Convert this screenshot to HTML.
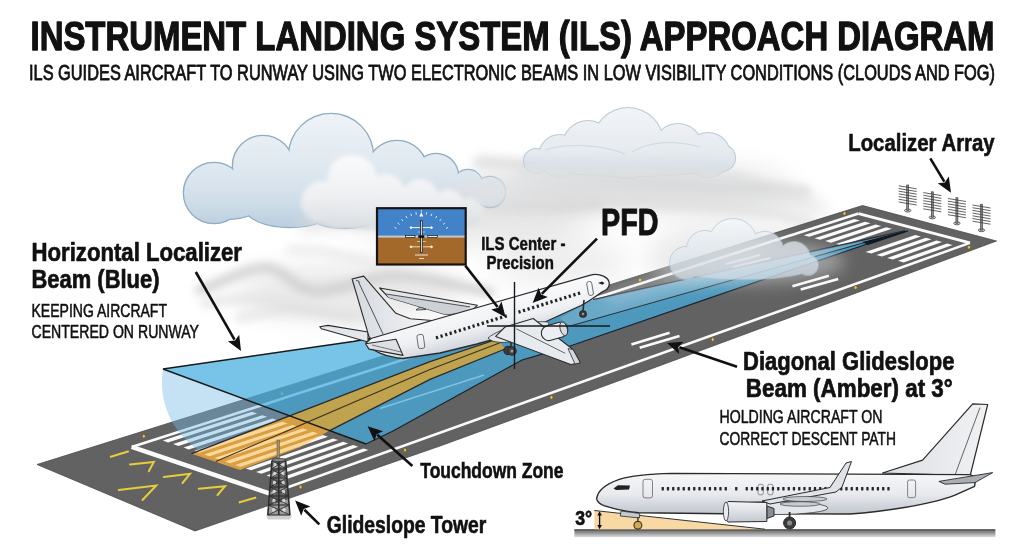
<!DOCTYPE html>
<html><head><meta charset="utf-8"><title>ILS Approach Diagram</title>
<style>html,body{margin:0;padding:0;background:#fff;width:1024px;height:559px;overflow:hidden}</style>
</head><body>
<svg width="1024" height="559" viewBox="0 0 1024 559" style="display:block;font-family:'Liberation Sans',sans-serif">
<defs>
<filter id="blur8" x="-50%" y="-50%" width="200%" height="200%"><feGaussianBlur stdDeviation="8"/></filter>
<filter id="blur14" x="-50%" y="-50%" width="200%" height="200%"><feGaussianBlur stdDeviation="14"/></filter>
<filter id="blur4" x="-50%" y="-50%" width="200%" height="200%"><feGaussianBlur stdDeviation="4"/></filter>
<filter id="blur2" x="-50%" y="-50%" width="200%" height="200%"><feGaussianBlur stdDeviation="2"/></filter>
<linearGradient id="cloudg" x1="0" y1="0" x2="0" y2="1">
 <stop offset="0" stop-color="#f4f7fa"/><stop offset="0.55" stop-color="#e2eaf1"/><stop offset="1" stop-color="#c3d3e0"/>
</linearGradient>
<linearGradient id="cloudg2" x1="0" y1="0" x2="0" y2="1">
 <stop offset="0" stop-color="#f2f5f8" stop-opacity="0.95"/><stop offset="1" stop-color="#d2dde6" stop-opacity="0.9"/>
</linearGradient>
<linearGradient id="fusg" x1="0" y1="0" x2="0" y2="1">
 <stop offset="0" stop-color="#fdfdfe"/><stop offset="0.5" stop-color="#eef0f3"/><stop offset="1" stop-color="#c9cdd4"/>
</linearGradient>
<linearGradient id="fusg2" x1="0" y1="0" x2="0" y2="1">
 <stop offset="0" stop-color="#f7f8fa"/><stop offset="0.45" stop-color="#e6e8ec"/><stop offset="1" stop-color="#b9bec6"/>
</linearGradient>
<linearGradient id="fing" x1="0" y1="0" x2="1" y2="0">
 <stop offset="0" stop-color="#d5d9df"/><stop offset="1" stop-color="#f4f5f7"/>
</linearGradient>
<linearGradient id="groundg" x1="0" y1="0" x2="0" y2="1">
 <stop offset="0" stop-color="#6b6b6b"/><stop offset="0.4" stop-color="#8f8f8f"/><stop offset="1" stop-color="#dcdcdc"/>
</linearGradient>
<radialGradient id="bluearc" cx="0.5" cy="0.5" r="0.5">
 <stop offset="0" stop-color="#9fd0ee" stop-opacity="0.75"/><stop offset="1" stop-color="#9fd0ee" stop-opacity="0.75"/>
</radialGradient>
</defs>
<rect width="1024" height="559" fill="#ffffff"/>

<g filter="url(#blur14)">
 <ellipse cx="350" cy="292" rx="115" ry="26" fill="#e8e8e8"/>
 <ellipse cx="470" cy="215" rx="120" ry="28" fill="#e6e6e6"/>
 <ellipse cx="640" cy="188" rx="150" ry="24" fill="#e4e4e4"/>
 <ellipse cx="740" cy="250" rx="90" ry="26" fill="#ebebeb"/>
 <ellipse cx="560" cy="262" rx="70" ry="24" fill="#eeeeee"/>
</g>
<g filter="url(#blur4)" fill="none" stroke-linecap="round">
 <path d="M200,290 C225,282 245,268 265,268 C285,268 295,290 315,291 C340,292 360,278 390,276 C420,275 450,285 490,292" stroke="#cbcbcb" stroke-width="10" opacity="0.8"/>
 <path d="M205,304 C240,296 270,298 300,306 C325,312 350,314 380,310" stroke="#dedede" stroke-width="9" opacity="0.7"/>
 <path d="M290,250 C320,248 345,256 370,262 C390,266 410,262 440,256" stroke="#e0e0e0" stroke-width="9" opacity="0.5"/>
 <path d="M240,318 C280,306 320,312 360,322" stroke="#dedede" stroke-width="10" opacity="0.6"/>
 <path d="M480,162 C540,165 590,174 650,180 C710,186 760,186 805,192" stroke="#d4d4d4" stroke-width="14" opacity="0.6"/>
 <path d="M560,205 C620,200 690,204 760,212 C780,215 795,218 810,222" stroke="#dadada" stroke-width="10" opacity="0.55"/>
 <path d="M330,214 C380,206 430,200 480,204 C520,207 560,210 600,205" stroke="#d6d6d6" stroke-width="12" opacity="0.55"/>
</g>

<linearGradient id="cg1" gradientUnits="userSpaceOnUse" x1="0" y1="112" x2="0" y2="230"><stop offset="0" stop-color="#eef3f7"/><stop offset="0.45" stop-color="#e0e9f0"/><stop offset="0.75" stop-color="#d0deea"/><stop offset="1" stop-color="#b8cddd"/></linearGradient>
<g opacity="1.00" ><circle cx="214.0" cy="193.0" r="30.0" fill="#8eacc3" stroke="#8eacc3" stroke-width="2.6"/><circle cx="263.0" cy="166.0" r="30.0" fill="#8eacc3" stroke="#8eacc3" stroke-width="2.6"/><circle cx="331.0" cy="156.0" r="42.0" fill="#8eacc3" stroke="#8eacc3" stroke-width="2.6"/><circle cx="397.0" cy="171.0" r="30.0" fill="#8eacc3" stroke="#8eacc3" stroke-width="2.6"/><circle cx="436.0" cy="176.0" r="22.0" fill="#8eacc3" stroke="#8eacc3" stroke-width="2.6"/><circle cx="458.0" cy="195.0" r="20.0" fill="#8eacc3" stroke="#8eacc3" stroke-width="2.6"/><circle cx="468.0" cy="184.0" r="14.0" fill="#8eacc3" stroke="#8eacc3" stroke-width="2.6"/><circle cx="490.0" cy="192.0" r="15.0" fill="#8eacc3" stroke="#8eacc3" stroke-width="2.6"/><ellipse cx="226.0" cy="200.0" rx="38.0" ry="19.0" fill="#8eacc3" stroke="#8eacc3" stroke-width="2.6"/><ellipse cx="290.0" cy="207.0" rx="45.0" ry="20.0" fill="#8eacc3" stroke="#8eacc3" stroke-width="2.6"/><ellipse cx="345.0" cy="208.0" rx="42.0" ry="20.0" fill="#8eacc3" stroke="#8eacc3" stroke-width="2.6"/><ellipse cx="400.0" cy="205.0" rx="40.0" ry="18.0" fill="#8eacc3" stroke="#8eacc3" stroke-width="2.6"/><g fill="url(#cg1)"><circle cx="214.0" cy="193.0" r="30.0"/><circle cx="263.0" cy="166.0" r="30.0"/><circle cx="331.0" cy="156.0" r="42.0"/><circle cx="397.0" cy="171.0" r="30.0"/><circle cx="436.0" cy="176.0" r="22.0"/><circle cx="458.0" cy="195.0" r="20.0"/><circle cx="468.0" cy="184.0" r="14.0"/><circle cx="490.0" cy="192.0" r="15.0"/><ellipse cx="226.0" cy="200.0" rx="38.0" ry="19.0"/><ellipse cx="290.0" cy="207.0" rx="45.0" ry="20.0"/><ellipse cx="345.0" cy="208.0" rx="42.0" ry="20.0"/><ellipse cx="400.0" cy="205.0" rx="40.0" ry="18.0"/><polygon points="214.0,193.0 260.0,165.0 331.0,156.0 396.0,170.0 436.0,176.0 468.0,184.0 490.0,192.0 458.0,200.0 400.0,215.0 350.0,215.0 310.0,215.0 258.0,210.0 212.0,205.0 195.0,195.0"/></g></g>
<linearGradient id="cg2" gradientUnits="userSpaceOnUse" x1="0" y1="105" x2="0" y2="180"><stop offset="0" stop-color="#f2f5f8"/><stop offset="0.6" stop-color="#e3e9ee"/><stop offset="1" stop-color="#cdd8e1"/></linearGradient>
<g opacity="0.90" ><circle cx="536.0" cy="161.0" r="12.0" fill="#b3c5d3" stroke="#b3c5d3" stroke-width="2.0"/><circle cx="560.0" cy="156.0" r="21.0" fill="#b3c5d3" stroke="#b3c5d3" stroke-width="2.0"/><circle cx="588.0" cy="146.0" r="25.0" fill="#b3c5d3" stroke="#b3c5d3" stroke-width="2.0"/><circle cx="628.0" cy="143.0" r="35.0" fill="#b3c5d3" stroke="#b3c5d3" stroke-width="2.0"/><circle cx="678.0" cy="148.0" r="24.0" fill="#b3c5d3" stroke="#b3c5d3" stroke-width="2.0"/><circle cx="708.0" cy="155.0" r="22.0" fill="#b3c5d3" stroke="#b3c5d3" stroke-width="2.0"/><circle cx="722.0" cy="158.0" r="13.0" fill="#b3c5d3" stroke="#b3c5d3" stroke-width="2.0"/><ellipse cx="630.0" cy="163.0" rx="95.0" ry="13.0" fill="#b3c5d3" stroke="#b3c5d3" stroke-width="2.0"/><g fill="url(#cg2)"><circle cx="536.0" cy="161.0" r="12.0"/><circle cx="560.0" cy="156.0" r="21.0"/><circle cx="588.0" cy="146.0" r="25.0"/><circle cx="628.0" cy="143.0" r="35.0"/><circle cx="678.0" cy="148.0" r="24.0"/><circle cx="708.0" cy="155.0" r="22.0"/><circle cx="722.0" cy="158.0" r="13.0"/><ellipse cx="630.0" cy="163.0" rx="95.0" ry="13.0"/><polygon points="536.0,161.0 560.0,156.0 588.0,145.0 628.0,143.0 678.0,148.0 708.0,155.0 722.0,160.0 630.0,175.0 540.0,170.0"/></g></g>
<g fill="none" stroke="#c3d1dc" stroke-width="0.9" opacity="0.9"><path d="M545,150 C565,143 600,144 625,154"/><path d="M632,152 C650,141 675,140 700,147"/></g>
<g filter="url(#blur4)">
 <path d="M515,168 C560,160 620,166 680,168 C710,169 735,172 750,176 L745,186 C700,182 640,180 590,182 C560,183 530,182 515,180 Z" fill="#dfe1e3" opacity="0.75"/>
</g>
<g filter="url(#blur8)">
 <path d="M300,215 C380,200 470,185 560,178 C650,172 740,185 820,200 L830,214 C740,205 650,196 560,200 C470,206 390,222 300,232 Z" fill="#d9dadb" opacity="0.7"/>
</g>
<g filter="url(#blur8)"><ellipse cx="492" cy="188" rx="38" ry="16" fill="#e2e5e8" opacity="0.6"/></g>
<linearGradient id="cgf" gradientUnits="userSpaceOnUse" x1="0" y1="152" x2="0" y2="232"><stop offset="0" stop-color="#fcfcfd"/><stop offset="0.55" stop-color="#f0f1f3"/><stop offset="1" stop-color="#d8dce0"/></linearGradient>
<g filter="url(#blur2)"><g opacity="0.95" ><g fill="url(#cgf)"><circle cx="322.0" cy="202.0" r="21.0"/><circle cx="352.0" cy="180.0" r="25.0"/><circle cx="386.0" cy="193.0" r="19.0"/><circle cx="420.0" cy="197.0" r="18.0"/><circle cx="448.0" cy="205.0" r="16.0"/><circle cx="470.0" cy="212.0" r="14.0"/><ellipse cx="385.0" cy="216.0" rx="75.0" ry="14.0"/><polygon points="322.0,202.0 352.0,180.0 386.0,193.0 420.0,197.0 448.0,205.0 470.0,212.0 440.0,228.0 330.0,228.0"/></g></g></g>
<polygon points="37.0,464.5 862.5,205.5 996.5,241.0 640.0,373.0 440.0,446.0 195.0,531.0" fill="#626262" stroke="#4a4a4a" stroke-width="0.8"/>
<g stroke="#fafafa" stroke-linecap="butt" fill="none">
<line x1="131.7" y1="446.9" x2="270.0" y2="493.7" stroke-width="4.5"/>
<line x1="131.7" y1="446.9" x2="858.6" y2="213.6" stroke-width="2.6"/>
<line x1="270.0" y1="493.7" x2="969.9" y2="242.9" stroke-width="2.6"/>
<line x1="858.6" y1="213.6" x2="969.9" y2="242.9" stroke-width="3"/>
</g>
<polygon points="162.8,440.6 252.0,411.8 257.1,413.5 168.0,442.4" fill="#fafafa"/>
<polygon points="173.1,444.1 262.2,415.2 267.3,416.8 178.4,445.9" fill="#fafafa"/>
<polygon points="183.5,447.6 272.3,418.5 277.4,420.2 188.7,449.4" fill="#fafafa"/>
<polygon points="193.9,451.1 282.4,421.8 287.5,423.5 199.1,452.8" fill="#fafafa"/>
<polygon points="204.3,454.6 292.5,425.1 297.6,426.8 209.5,456.3" fill="#fafafa"/>
<polygon points="214.6,458.1 302.6,428.5 307.7,430.1 219.8,459.8" fill="#fafafa"/>
<polygon points="225.0,461.6 312.8,431.8 317.9,433.5 230.2,463.3" fill="#fafafa"/>
<polygon points="235.4,465.0 322.9,435.1 328.0,436.8 240.6,466.8" fill="#fafafa"/>
<polygon points="245.7,468.5 333.0,438.4 338.1,440.1 251.0,470.3" fill="#fafafa"/>
<polygon points="256.1,472.0 343.1,441.8 348.2,443.4 261.3,473.8" fill="#fafafa"/>
<polygon points="266.5,475.5 353.2,445.1 358.3,446.8 271.7,477.3" fill="#fafafa"/>
<polygon points="276.8,479.0 363.4,448.4 368.5,450.1 282.1,480.7" fill="#fafafa"/>
<polygon points="803.6,235.3 854.4,218.9 860.0,220.4 809.3,236.8" fill="#fafafa"/>
<polygon points="814.4,238.2 865.0,221.7 870.6,223.2 820.1,239.7" fill="#fafafa"/>
<polygon points="825.2,241.1 875.6,224.5 881.2,226.0 830.9,242.7" fill="#fafafa"/>
<polygon points="836.0,244.1 886.2,227.3 891.8,228.8 841.7,245.6" fill="#fafafa"/>
<polygon points="865.5,252.1 915.3,235.0 920.9,236.5 871.2,253.6" fill="#fafafa"/>
<polygon points="876.3,255.0 925.9,237.8 931.5,239.3 882.0,256.5" fill="#fafafa"/>
<polygon points="887.1,257.9 936.5,240.6 942.1,242.1 892.8,259.4" fill="#fafafa"/>
<polygon points="897.9,260.8 947.1,243.4 952.7,244.9 903.6,262.4" fill="#fafafa"/>
<line x1="631.4" y1="344.4" x2="669.6" y2="332.8" stroke="#fafafa" stroke-width="2.6"/>
<line x1="639.7" y1="347.7" x2="679.5" y2="336.1" stroke="#fafafa" stroke-width="2.6"/>
<line x1="792.4" y1="286.3" x2="828.9" y2="275.7" stroke="#fafafa" stroke-width="2.6"/>
<line x1="800.7" y1="289.6" x2="838.2" y2="279.0" stroke="#fafafa" stroke-width="2.6"/>
<line x1="726.0" y1="264.0" x2="760.0" y2="255.0" stroke="#e8e8e8" stroke-width="2.2"/>
<line x1="733.0" y1="267.0" x2="770.0" y2="258.0" stroke="#e8e8e8" stroke-width="2.2"/>
<polyline points="130.0,464.5 153.8,462.0 148.8,471.2" fill="none" stroke="#e6cd3c" stroke-width="2" stroke-linejoin="miter" stroke-linecap="round"/>
<polyline points="163.8,477.0 190.0,473.8 182.5,483.0" fill="none" stroke="#e6cd3c" stroke-width="2" stroke-linejoin="miter" stroke-linecap="round"/>
<polyline points="118.8,490.0 156.2,485.5 142.5,500.0" fill="none" stroke="#e6cd3c" stroke-width="2" stroke-linejoin="miter" stroke-linecap="round"/>
<polyline points="198.8,488.8 225.0,486.2 217.5,495.0" fill="none" stroke="#e6cd3c" stroke-width="2" stroke-linejoin="miter" stroke-linecap="round"/>
<line x1="110.0" y1="457.0" x2="128.8" y2="451.2" stroke="#e6cd3c" stroke-width="2.0"/>
<line x1="238.8" y1="502.5" x2="256.2" y2="497.5" stroke="#e6cd3c" stroke-width="2.0"/>
<ellipse cx="143.8" cy="436.2" rx="1.6" ry="1.9" fill="#e6c04a" stroke="#5a4a18" stroke-width="0.6"/>
<ellipse cx="282.0" cy="393.5" rx="1.6" ry="1.9" fill="#e6c04a" stroke="#5a4a18" stroke-width="0.6"/>
<ellipse cx="640.0" cy="280.0" rx="1.6" ry="1.9" fill="#e6c04a" stroke="#5a4a18" stroke-width="0.6"/>
<ellipse cx="844.5" cy="213.4" rx="1.6" ry="1.9" fill="#e6c04a" stroke="#5a4a18" stroke-width="0.6"/>
<ellipse cx="300.5" cy="487.0" rx="1.6" ry="1.9" fill="#e6c04a" stroke="#5a4a18" stroke-width="0.6"/>
<ellipse cx="405.0" cy="450.0" rx="1.6" ry="1.9" fill="#e6c04a" stroke="#5a4a18" stroke-width="0.6"/>
<ellipse cx="551.4" cy="397.4" rx="1.6" ry="1.9" fill="#e6c04a" stroke="#5a4a18" stroke-width="0.6"/>
<ellipse cx="712.8" cy="339.5" rx="1.6" ry="1.9" fill="#e6c04a" stroke="#5a4a18" stroke-width="0.6"/>
<ellipse cx="855.6" cy="287.5" rx="1.6" ry="1.9" fill="#e6c04a" stroke="#5a4a18" stroke-width="0.6"/>
<ellipse cx="969.0" cy="247.3" rx="1.6" ry="1.9" fill="#e6c04a" stroke="#5a4a18" stroke-width="0.6"/>
<path d="M163,369 L289.2,415.6 L201,452 C170,432 158,400 163,369 Z" fill="rgb(114,186,227)" fill-opacity="0.42"/>
<polygon points="163.0,369.0 353.0,341.5 470.0,321.0 593.0,299.6 905.0,231.0 570.0,346.0 522.0,360.0 393.0,431.0 366.0,444.0" fill="rgb(70,173,223)" fill-opacity="0.73"/>
<polygon points="191.5,453.7 289.6,415.8 329.7,430.6 300.0,447.3 240.0,470.0" fill="rgb(250,176,58)" fill-opacity="0.78"/>
<clipPath id="ambclip"><polygon points="191.5,453.7 289.6,415.8 329.7,430.6 300.0,447.3 240.0,470.0"/></clipPath>
<g clip-path="url(#ambclip)" opacity="0.45">
<polygon points="162.8,440.6 252.0,411.8 257.1,413.5 168.0,442.4" fill="#fff4dc"/>
<polygon points="173.1,444.1 262.2,415.2 267.3,416.8 178.4,445.9" fill="#fff4dc"/>
<polygon points="183.5,447.6 272.3,418.5 277.4,420.2 188.7,449.4" fill="#fff4dc"/>
<polygon points="193.9,451.1 282.4,421.8 287.5,423.5 199.1,452.8" fill="#fff4dc"/>
<polygon points="204.3,454.6 292.5,425.1 297.6,426.8 209.5,456.3" fill="#fff4dc"/>
<polygon points="214.6,458.1 302.6,428.5 307.7,430.1 219.8,459.8" fill="#fff4dc"/>
<polygon points="225.0,461.6 312.8,431.8 317.9,433.5 230.2,463.3" fill="#fff4dc"/>
<polygon points="235.4,465.0 322.9,435.1 328.0,436.8 240.6,466.8" fill="#fff4dc"/>
<polygon points="245.7,468.5 333.0,438.4 338.1,440.1 251.0,470.3" fill="#fff4dc"/>
<polygon points="256.1,472.0 343.1,441.8 348.2,443.4 261.3,473.8" fill="#fff4dc"/>
<polygon points="266.5,475.5 353.2,445.1 358.3,446.8 271.7,477.3" fill="#fff4dc"/>
<polygon points="276.8,479.0 363.4,448.4 368.5,450.1 282.1,480.7" fill="#fff4dc"/>
</g>
<polygon points="289.6,415.8 430.0,361.7 498.0,339.0 505.0,349.0 430.0,379.4 329.7,430.6" fill="rgb(212,164,60)" fill-opacity="0.85"/>
<polyline points="191.5,453.7 289.6,415.8 430.0,361.7 498.0,339.0" fill="none" stroke="#2a2a2a" stroke-width="1.3"/>
<polyline points="329.7,430.6 430.0,379.4 505.0,349.0" fill="none" stroke="#2a2a2a" stroke-width="1.2"/>
<polyline points="215.8,461.6 430.0,369.5 502.0,342.0" fill="none" stroke="#3a3020" stroke-width="1.1"/>
<line x1="380" y1="408.5" x2="484" y2="375" stroke="#86c9ee" stroke-width="1.4" stroke-opacity="0.85"/>
<polyline points="366.0,444.0 163.0,369.0 353.0,341.5 470.0,321.0" fill="none" stroke="#1a1a1a" stroke-width="1.5"/>
<polyline points="366.0,444.0 393.0,431.0 522.0,360.0 570.0,346.0 905.0,231.0" fill="none" stroke="#1a2530" stroke-width="1.3"/>
<polyline points="593.0,299.6 905.0,231.0" fill="none" stroke="#1a2530" stroke-width="1.3"/>
<line x1="570" y1="326" x2="905" y2="231" stroke="#1a2530" stroke-width="1.1"/>
<polygon points="593.0,299.6 905.0,231.0 570.0,326.0 560.0,318.0" fill="#ffffff" fill-opacity="0.16"/>
<polygon points="862.0,242.0 908.0,230.6 908.0,231.6 868.0,245.0" fill="#101820"/>
<polygon points="266,515 292,515 290,519.5 268,519.5" fill="#cfcfcf"/><rect x="277" y="440" width="2.4" height="20" fill="#a39268" stroke="#5a5030" stroke-width="0.5"/><polygon points="272,460.5 285.6,460.5 290,515 267.5,515" fill="#5a5a5a" fill-opacity="0.6"/><ellipse cx="275.1" cy="465.0" rx="1.7" ry="2.4" fill="#e0e0e0" fill-opacity="0.85"/><ellipse cx="282.6" cy="465.0" rx="1.7" ry="2.4" fill="#e0e0e0" fill-opacity="0.85"/><ellipse cx="274.8" cy="474.0" rx="1.7" ry="2.4" fill="#e0e0e0" fill-opacity="0.85"/><ellipse cx="282.8" cy="474.0" rx="1.7" ry="2.4" fill="#e0e0e0" fill-opacity="0.85"/><ellipse cx="274.5" cy="483.0" rx="1.7" ry="2.4" fill="#e0e0e0" fill-opacity="0.85"/><ellipse cx="283.1" cy="483.0" rx="1.7" ry="2.4" fill="#e0e0e0" fill-opacity="0.85"/><ellipse cx="274.2" cy="492.0" rx="1.7" ry="2.4" fill="#e0e0e0" fill-opacity="0.85"/><ellipse cx="283.4" cy="492.0" rx="1.7" ry="2.4" fill="#e0e0e0" fill-opacity="0.85"/><ellipse cx="274.0" cy="501.0" rx="1.7" ry="2.4" fill="#e0e0e0" fill-opacity="0.85"/><ellipse cx="283.6" cy="501.0" rx="1.7" ry="2.4" fill="#e0e0e0" fill-opacity="0.85"/><ellipse cx="273.7" cy="510.0" rx="1.7" ry="2.4" fill="#e0e0e0" fill-opacity="0.85"/><ellipse cx="283.9" cy="510.0" rx="1.7" ry="2.4" fill="#e0e0e0" fill-opacity="0.85"/><g stroke="#2e2e2e" stroke-width="1.6" fill="none"><line x1="272" y1="460.5" x2="267.8" y2="515"/><line x1="285.6" y1="460.5" x2="289.9" y2="515"/><line x1="278.8" y1="461.5" x2="278.8" y2="515"/><line x1="272.0" y1="460.5" x2="285.6" y2="460.5" stroke-width="1.1"/><line x1="272.0" y1="460.5" x2="286.3" y2="469.0" stroke-width="0.9"/><line x1="285.6" y1="460.5" x2="271.3" y2="469.0" stroke-width="0.9"/><line x1="271.3" y1="469.0" x2="286.3" y2="469.0" stroke-width="1.1"/><line x1="271.3" y1="469.0" x2="287.0" y2="478.0" stroke-width="0.9"/><line x1="286.3" y1="469.0" x2="270.7" y2="478.0" stroke-width="0.9"/><line x1="270.7" y1="478.0" x2="287.0" y2="478.0" stroke-width="1.1"/><line x1="270.7" y1="478.0" x2="287.7" y2="487.0" stroke-width="0.9"/><line x1="287.0" y1="478.0" x2="270.0" y2="487.0" stroke-width="0.9"/><line x1="270.0" y1="487.0" x2="287.7" y2="487.0" stroke-width="1.1"/><line x1="270.0" y1="487.0" x2="288.4" y2="496.0" stroke-width="0.9"/><line x1="287.7" y1="487.0" x2="269.3" y2="496.0" stroke-width="0.9"/><line x1="269.3" y1="496.0" x2="288.4" y2="496.0" stroke-width="1.1"/><line x1="269.3" y1="496.0" x2="289.1" y2="505.0" stroke-width="0.9"/><line x1="288.4" y1="496.0" x2="268.6" y2="505.0" stroke-width="0.9"/><line x1="268.6" y1="505.0" x2="289.1" y2="505.0" stroke-width="1.1"/><line x1="268.6" y1="505.0" x2="289.9" y2="515.0" stroke-width="0.9"/><line x1="289.1" y1="505.0" x2="267.8" y2="515.0" stroke-width="0.9"/><line x1="267.8" y1="515.0" x2="289.9" y2="515.0" stroke-width="1.1"/></g><ellipse cx="278.8" cy="460" rx="7" ry="1.6" fill="#888" stroke="#333" stroke-width="0.8"/>
<g filter="url(#blur8)"><path d="M600,292 L700,262 L760,250 L760,268 L700,282 L610,302 Z" fill="#f0f0f0" opacity="0.35"/></g>
<linearGradient id="cg3" gradientUnits="userSpaceOnUse" x1="0" y1="218" x2="0" y2="280"><stop offset="0" stop-color="#f4f7fa"/><stop offset="1" stop-color="#cfdbe5"/></linearGradient>
<g filter="url(#blur8)" opacity="0.45">
 <ellipse cx="745" cy="262" rx="100" ry="22" fill="#e2e4e6"/>
</g>
<g opacity="0.72" ><circle cx="686.0" cy="263.0" r="16.0" fill="#b3c6d6" stroke="#b3c6d6" stroke-width="1.8"/><circle cx="705.0" cy="249.0" r="18.0" fill="#b3c6d6" stroke="#b3c6d6" stroke-width="1.8"/><circle cx="733.0" cy="243.0" r="24.0" fill="#b3c6d6" stroke="#b3c6d6" stroke-width="1.8"/><circle cx="765.0" cy="250.0" r="18.0" fill="#b3c6d6" stroke="#b3c6d6" stroke-width="1.8"/><circle cx="794.0" cy="258.0" r="16.0" fill="#b3c6d6" stroke="#b3c6d6" stroke-width="1.8"/><circle cx="808.0" cy="265.0" r="10.0" fill="#b3c6d6" stroke="#b3c6d6" stroke-width="1.8"/><ellipse cx="742.0" cy="268.0" rx="68.0" ry="11.0" fill="#b3c6d6" stroke="#b3c6d6" stroke-width="1.8"/><g fill="url(#cg3)"><circle cx="686.0" cy="263.0" r="16.0"/><circle cx="705.0" cy="249.0" r="18.0"/><circle cx="733.0" cy="243.0" r="24.0"/><circle cx="765.0" cy="250.0" r="18.0"/><circle cx="794.0" cy="258.0" r="16.0"/><circle cx="808.0" cy="265.0" r="10.0"/><ellipse cx="742.0" cy="268.0" rx="68.0" ry="11.0"/></g></g>
<g stroke="#2b2b2b" stroke-width="1.1" stroke-linejoin="round"><polygon points="379.7,288 477.4,305.2 470,313 445.2,314.4 388.3,297.2" fill="#e3e6ea"/><polygon points="386,294 470,306.9 466,312 445.2,314.4 388.3,297.2" fill="#cdd1d7" stroke="none"/><line x1="386" y1="294" x2="470" y2="306.9" stroke-width="0.8"/><path d="M416,310 q3,-4 7,-2 l3,1.5 z" fill="#d0d4da" stroke-width="0.8"/><polygon points="319.8,326.7 327.9,325.4 368,332 368,342 321.5,328.8" fill="#e3e6ea"/><polygon points="352.1,279 363.7,276.1 395.9,313.3 410.2,318.7 432,320.5 372,340 369,336.6" fill="url(#fing)"/><line x1="358.3" y1="281.5" x2="383.4" y2="334.8" stroke-width="0.8"/><path d="M356,280.5 q3,-0.5 3.5,2" fill="none" stroke-width="0.7"/><linearGradient id="fusm" gradientUnits="userSpaceOnUse" x1="470" y1="300" x2="482" y2="350"><stop offset="0" stop-color="#fbfcfd"/><stop offset="0.55" stop-color="#eef0f3"/><stop offset="1" stop-color="#c5cad2"/></linearGradient><path d="M366,343 L371,338.5 L432,320.5 L589.6,275.3 C600,272.5 609.5,277.5 609.3,284 C609,288.5 606,290.5 602.7,291.5 C595,297 588,302 581,305.5 L545,322 L500,337.5 L477,344 L440,353 L403,358.5 C388,357 372,352 366,343 Z" fill="url(#fusm)" stroke-width="1.3"/><polygon points="365.5,343.7 396,339.3 403,355.4 369,349.1" fill="#dde0e5"/><line x1="372" y1="345" x2="401" y2="352" stroke-width="0.6"/><rect x="417.5" y="334.5" width="6.5" height="14" rx="2" fill="none" stroke="#555" stroke-width="0.8" transform="rotate(-8 421 341)"/><rect x="587.5" y="281.5" width="5" height="14" rx="2" fill="none" stroke="#555" stroke-width="0.8" transform="rotate(-10 590 288)"/></g><rect x="435.9" y="335.9" width="2.2" height="3.3" fill="#222" transform="rotate(-17 437.0 337.5)"/><rect x="440.5" y="334.4" width="2.2" height="3.3" fill="#222" transform="rotate(-17 441.6 336.1)"/><rect x="445.1" y="333.0" width="2.2" height="3.3" fill="#222" transform="rotate(-17 446.2 334.6)"/><rect x="449.6" y="331.6" width="2.2" height="3.3" fill="#222" transform="rotate(-17 450.7 333.2)"/><rect x="454.2" y="330.1" width="2.2" height="3.3" fill="#222" transform="rotate(-17 455.3 331.8)"/><rect x="458.8" y="328.7" width="2.2" height="3.3" fill="#222" transform="rotate(-17 459.9 330.4)"/><rect x="463.4" y="327.3" width="2.2" height="3.3" fill="#222" transform="rotate(-17 464.5 328.9)"/><rect x="468.0" y="325.9" width="2.2" height="3.3" fill="#222" transform="rotate(-17 469.1 327.5)"/><rect x="472.5" y="324.4" width="2.2" height="3.3" fill="#222" transform="rotate(-17 473.6 326.1)"/><rect x="477.1" y="323.0" width="2.2" height="3.3" fill="#222" transform="rotate(-17 478.2 324.7)"/><rect x="481.7" y="321.6" width="2.2" height="3.3" fill="#222" transform="rotate(-17 482.8 323.2)"/><rect x="486.3" y="320.2" width="2.2" height="3.3" fill="#222" transform="rotate(-17 487.4 321.8)"/><rect x="490.9" y="318.7" width="2.2" height="3.3" fill="#222" transform="rotate(-17 492.0 320.4)"/><rect x="495.4" y="317.3" width="2.2" height="3.3" fill="#222" transform="rotate(-17 496.5 319.0)"/><rect x="500.0" y="315.9" width="2.2" height="3.3" fill="#222" transform="rotate(-17 501.1 317.5)"/><rect x="504.6" y="314.5" width="2.2" height="3.3" fill="#222" transform="rotate(-17 505.7 316.1)"/><rect x="518.4" y="310.2" width="2.2" height="3.3" fill="#222" transform="rotate(-17 519.5 311.8)"/><rect x="522.9" y="308.8" width="2.2" height="3.3" fill="#222" transform="rotate(-17 524.0 310.4)"/><rect x="527.5" y="307.3" width="2.2" height="3.3" fill="#222" transform="rotate(-17 528.6 309.0)"/><rect x="532.1" y="305.9" width="2.2" height="3.3" fill="#222" transform="rotate(-17 533.2 307.6)"/><rect x="536.7" y="304.5" width="2.2" height="3.3" fill="#222" transform="rotate(-17 537.8 306.1)"/><rect x="541.3" y="303.1" width="2.2" height="3.3" fill="#222" transform="rotate(-17 542.4 304.7)"/><rect x="545.8" y="301.6" width="2.2" height="3.3" fill="#222" transform="rotate(-17 546.9 303.3)"/><rect x="550.4" y="300.2" width="2.2" height="3.3" fill="#222" transform="rotate(-17 551.5 301.9)"/><rect x="555.0" y="298.8" width="2.2" height="3.3" fill="#222" transform="rotate(-17 556.1 300.4)"/><rect x="559.6" y="297.4" width="2.2" height="3.3" fill="#222" transform="rotate(-17 560.7 299.0)"/><rect x="564.2" y="295.9" width="2.2" height="3.3" fill="#222" transform="rotate(-17 565.3 297.6)"/><rect x="568.7" y="294.5" width="2.2" height="3.3" fill="#222" transform="rotate(-17 569.8 296.2)"/><rect x="573.3" y="293.1" width="2.2" height="3.3" fill="#222" transform="rotate(-17 574.4 294.7)"/><rect x="577.9" y="291.7" width="2.2" height="3.3" fill="#222" transform="rotate(-17 579.0 293.3)"/><path d="M598,283 l4,-1.5 l2.5,1.5 l-2,1.8 z" fill="#222"/><g stroke="#2b2b2b" stroke-width="1.1" stroke-linejoin="round"><path d="M488,338 C500,328 530,320 548,322 C552,326 540,334 520,340 C505,344 492,343 488,338 Z" fill="#e2e5ea" stroke-width="0.8"/><line x1="511" y1="340" x2="511" y2="350" stroke-width="1.6"/><circle cx="508" cy="350.5" r="4.2" fill="#3a3a3a"/><circle cx="512" cy="351" r="4.2" fill="#444"/><circle cx="512" cy="351" r="1.5" fill="#999" stroke="none"/><line x1="584" y1="300" x2="583" y2="311" stroke-width="1.6"/><circle cx="583" cy="314" r="3.3" fill="#3a3a3a"/><circle cx="583" cy="314" r="1.2" fill="#999" stroke="none"/><polygon points="495.7,336.4 505,327 533.2,318.5 573,349.5 580.2,362.7 570.8,364.5" fill="#e7eaee"/><line x1="516.3" y1="328.8" x2="565.2" y2="353.3" stroke-width="0.7"/><polygon points="568,348.6 573,349.5 580.2,362.7 575,364" fill="#d5d9df" stroke-width="0.8"/><g transform="rotate(-16 556 331)"><rect x="541" y="323.5" width="27" height="15" rx="7.5" fill="#eceef1"/><ellipse cx="564" cy="331" rx="3.5" ry="7" fill="#d7dbe0" stroke-width="0.8"/></g></g>
<line x1="514.5" y1="282" x2="514.5" y2="369" stroke="#1a1a1a" stroke-width="1.4"/>
<line x1="487" y1="326" x2="610" y2="326" stroke="#1a1a1a" stroke-width="1.4"/>
<rect x="377" y="208.2" width="88.7" height="56.3" fill="#4282c8"/><rect x="377" y="237" width="88.7" height="27.5" fill="#a3692b"/><rect x="377" y="235.6" width="88.7" height="2" fill="#c9c9c9"/><line x1="394.5" y1="227.3" x2="396.6" y2="228.6" stroke="#e8f0fa" stroke-width="0.9"/><line x1="397.6" y1="222.9" x2="399.5" y2="224.5" stroke="#e8f0fa" stroke-width="0.9"/><line x1="401.4" y1="219.1" x2="403.0" y2="221.0" stroke="#e8f0fa" stroke-width="0.9"/><line x1="405.8" y1="216.0" x2="407.1" y2="218.1" stroke="#e8f0fa" stroke-width="0.9"/><line x1="410.7" y1="213.7" x2="411.6" y2="216.0" stroke="#e8f0fa" stroke-width="0.9"/><line x1="415.9" y1="212.3" x2="416.4" y2="214.7" stroke="#e8f0fa" stroke-width="0.9"/><line x1="426.7" y1="212.3" x2="426.2" y2="214.7" stroke="#e8f0fa" stroke-width="0.9"/><line x1="431.9" y1="213.7" x2="431.0" y2="216.0" stroke="#e8f0fa" stroke-width="0.9"/><line x1="436.8" y1="216.0" x2="435.6" y2="218.1" stroke="#e8f0fa" stroke-width="0.9"/><line x1="441.2" y1="219.1" x2="439.6" y2="221.0" stroke="#e8f0fa" stroke-width="0.9"/><line x1="445.0" y1="222.9" x2="443.1" y2="224.5" stroke="#e8f0fa" stroke-width="0.9"/><line x1="448.1" y1="227.3" x2="446.0" y2="228.6" stroke="#e8f0fa" stroke-width="0.9"/><polygon points="421.3,212 419.3,216.5 423.3,216.5" fill="#f4f8fc"/><line x1="421.3" y1="209.5" x2="421.3" y2="212" stroke="#f4f8fc" stroke-width="0.8"/><g stroke="#f4f4f4" stroke-width="1"><line x1="411" y1="227.6" x2="431.5" y2="227.6"/><line x1="411" y1="246.8" x2="431.5" y2="246.8" stroke="#f3d9a8"/><circle cx="411" cy="227.6" r="0.9" fill="#fff"/><circle cx="431.5" cy="227.6" r="0.9" fill="#fff"/><circle cx="411" cy="246.8" r="0.9" fill="#f3d9a8"/><circle cx="431.5" cy="246.8" r="0.9" fill="#f3d9a8"/><line x1="415" y1="255" x2="428" y2="255" stroke-width="0.9"/><line x1="419" y1="258.5" x2="424" y2="258.5" stroke-width="0.8"/><line x1="417" y1="241.5" x2="426" y2="241.5" stroke-width="0.6"/><line x1="418" y1="232" x2="425" y2="232" stroke-width="0.6"/></g><rect x="405.5" y="235.5" width="9.5" height="2.1" fill="#f0f0f0" stroke="#111" stroke-width="0.7"/><rect x="427.8" y="235.5" width="9.5" height="2.1" fill="#f0f0f0" stroke="#111" stroke-width="0.7"/><rect x="420.4" y="220.8" width="1.8" height="31.5" fill="#ffffff" stroke="#111" stroke-width="0.8"/><rect x="418.3" y="235.3" width="6" height="2.6" fill="#111"/><rect x="377" y="208.2" width="88.7" height="56.3" fill="none" stroke="#151515" stroke-width="2.2"/>
<ellipse cx="907.7" cy="210.5" rx="3.2" ry="1.5" fill="#d8d8d8" stroke="#444" stroke-width="0.8"/><rect x="906.7" y="185.0" width="2" height="25.5" fill="#8a8a8a" stroke="#3a3a3a" stroke-width="0.6"/><line x1="898.7" y1="185.8" x2="916.7" y2="188.8" stroke="#3a3a3a" stroke-width="0.8"/><line x1="898.7" y1="188.5" x2="916.7" y2="191.5" stroke="#3a3a3a" stroke-width="0.8"/><line x1="898.7" y1="191.2" x2="916.7" y2="194.2" stroke="#3a3a3a" stroke-width="0.8"/><line x1="898.7" y1="193.9" x2="916.7" y2="196.9" stroke="#3a3a3a" stroke-width="0.8"/><line x1="898.7" y1="196.6" x2="916.7" y2="199.6" stroke="#3a3a3a" stroke-width="0.8"/><line x1="898.7" y1="199.3" x2="916.7" y2="202.3" stroke="#3a3a3a" stroke-width="0.8"/><line x1="898.7" y1="202.0" x2="916.7" y2="205.0" stroke="#3a3a3a" stroke-width="0.8"/><ellipse cx="932.3" cy="217.4" rx="3.2" ry="1.5" fill="#d8d8d8" stroke="#444" stroke-width="0.8"/><rect x="931.3" y="191.8" width="2" height="25.6" fill="#8a8a8a" stroke="#3a3a3a" stroke-width="0.6"/><line x1="923.3" y1="192.6" x2="941.3" y2="195.6" stroke="#3a3a3a" stroke-width="0.8"/><line x1="923.3" y1="195.3" x2="941.3" y2="198.3" stroke="#3a3a3a" stroke-width="0.8"/><line x1="923.3" y1="198.0" x2="941.3" y2="201.0" stroke="#3a3a3a" stroke-width="0.8"/><line x1="923.3" y1="200.7" x2="941.3" y2="203.7" stroke="#3a3a3a" stroke-width="0.8"/><line x1="923.3" y1="203.4" x2="941.3" y2="206.4" stroke="#3a3a3a" stroke-width="0.8"/><line x1="923.3" y1="206.1" x2="941.3" y2="209.1" stroke="#3a3a3a" stroke-width="0.8"/><line x1="923.3" y1="208.8" x2="941.3" y2="211.8" stroke="#3a3a3a" stroke-width="0.8"/><ellipse cx="956.9" cy="223.3" rx="3.2" ry="1.5" fill="#d8d8d8" stroke="#444" stroke-width="0.8"/><rect x="955.9" y="197.7" width="2" height="25.6" fill="#8a8a8a" stroke="#3a3a3a" stroke-width="0.6"/><line x1="947.9" y1="198.5" x2="965.9" y2="201.5" stroke="#3a3a3a" stroke-width="0.8"/><line x1="947.9" y1="201.2" x2="965.9" y2="204.2" stroke="#3a3a3a" stroke-width="0.8"/><line x1="947.9" y1="203.9" x2="965.9" y2="206.9" stroke="#3a3a3a" stroke-width="0.8"/><line x1="947.9" y1="206.6" x2="965.9" y2="209.6" stroke="#3a3a3a" stroke-width="0.8"/><line x1="947.9" y1="209.3" x2="965.9" y2="212.3" stroke="#3a3a3a" stroke-width="0.8"/><line x1="947.9" y1="212.0" x2="965.9" y2="215.0" stroke="#3a3a3a" stroke-width="0.8"/><line x1="947.9" y1="214.7" x2="965.9" y2="217.7" stroke="#3a3a3a" stroke-width="0.8"/><ellipse cx="981.5" cy="230.2" rx="3.2" ry="1.5" fill="#d8d8d8" stroke="#444" stroke-width="0.8"/><rect x="980.5" y="204.2" width="2" height="26.0" fill="#8a8a8a" stroke="#3a3a3a" stroke-width="0.6"/><line x1="972.5" y1="205.0" x2="990.5" y2="208.0" stroke="#3a3a3a" stroke-width="0.8"/><line x1="972.5" y1="207.7" x2="990.5" y2="210.7" stroke="#3a3a3a" stroke-width="0.8"/><line x1="972.5" y1="210.4" x2="990.5" y2="213.4" stroke="#3a3a3a" stroke-width="0.8"/><line x1="972.5" y1="213.1" x2="990.5" y2="216.1" stroke="#3a3a3a" stroke-width="0.8"/><line x1="972.5" y1="215.8" x2="990.5" y2="218.8" stroke="#3a3a3a" stroke-width="0.8"/><line x1="972.5" y1="218.5" x2="990.5" y2="221.5" stroke="#3a3a3a" stroke-width="0.8"/><line x1="972.5" y1="221.2" x2="990.5" y2="224.2" stroke="#3a3a3a" stroke-width="0.8"/>
<rect x="574.4" y="529.6" width="421" height="7.5" fill="url(#groundg)"/><line x1="574.4" y1="529.8" x2="995.2" y2="529.8" stroke="#4a4a4a" stroke-width="1.2"/><polygon points="594.3,510.5 594.3,529.2 765,529.2" fill="#f8d9a4"/><line x1="594.3" y1="510.5" x2="765" y2="529.2" stroke="#333" stroke-width="1"/><g stroke="#2b2b2b" stroke-width="1.2" stroke-linejoin="round"><linearGradient id="fins" gradientUnits="userSpaceOnUse" x1="900" y1="0" x2="990" y2="0"><stop offset="0" stop-color="#dfe2e6"/><stop offset="1" stop-color="#f1f2f4"/></linearGradient><polygon points="882.5,473 922.6,460.1 972.7,403.8 987.7,404.5 970.2,475.5" fill="url(#fins)"/><line x1="980" y1="407.5" x2="955" y2="475" stroke-width="0.7"/><linearGradient id="fuss" gradientUnits="userSpaceOnUse" x1="0" y1="473" x2="0" y2="515"><stop offset="0" stop-color="#f6f7f9"/><stop offset="0.5" stop-color="#e8eaee"/><stop offset="1" stop-color="#bfc4cc"/></linearGradient><path d="M596.8,497.9 C598,490 606,484 619.3,479.3 C630,476 650,474 672,473.4 L970,474.6 L976,477.6 L974.5,486.4 L955,495.2 C930,505 880,512 850,514 L724.8,513.8 L638.8,512.8 C625,511.8 608,507.5 601.7,504.7 C598,502.5 596.5,500 596.8,497.9 Z" fill="url(#fuss)" stroke-width="1.4"/><polygon points="938.9,481.4 992.7,472.6 975,482.6 945,484.2" fill="#a9aeb5" stroke-width="0.9"/><rect x="643" y="479.3" width="9.5" height="18.6" rx="2.2" fill="none" stroke="#666" stroke-width="0.8"/><rect x="907.6" y="480" width="8" height="17.7" rx="2" fill="none" stroke="#666" stroke-width="0.8"/><rect x="758" y="484.3" width="5.3" height="10.5" rx="1.8" fill="none" stroke="#666" stroke-width="0.7"/><rect x="767.7" y="484.3" width="5.3" height="10.5" rx="1.8" fill="none" stroke="#666" stroke-width="0.7"/></g><rect x="661.6" y="486.9" width="2.3" height="3.6" rx="0.4" fill="#252525"/><rect x="666.8" y="486.9" width="2.3" height="3.6" rx="0.4" fill="#252525"/><rect x="672.1" y="486.9" width="2.3" height="3.6" rx="0.4" fill="#252525"/><rect x="677.3" y="486.9" width="2.3" height="3.6" rx="0.4" fill="#252525"/><rect x="682.6" y="486.9" width="2.3" height="3.6" rx="0.4" fill="#252525"/><rect x="687.8" y="486.9" width="2.3" height="3.6" rx="0.4" fill="#252525"/><rect x="693.1" y="486.9" width="2.3" height="3.6" rx="0.4" fill="#252525"/><rect x="698.3" y="486.9" width="2.3" height="3.6" rx="0.4" fill="#252525"/><rect x="703.6" y="486.9" width="2.3" height="3.6" rx="0.4" fill="#252525"/><rect x="708.8" y="486.9" width="2.3" height="3.6" rx="0.4" fill="#252525"/><rect x="714.1" y="486.9" width="2.3" height="3.6" rx="0.4" fill="#252525"/><rect x="719.3" y="486.9" width="2.3" height="3.6" rx="0.4" fill="#252525"/><rect x="724.6" y="486.9" width="2.3" height="3.6" rx="0.4" fill="#252525"/><rect x="735.1" y="486.9" width="2.3" height="3.6" rx="0.4" fill="#252525"/><rect x="745.6" y="486.9" width="2.3" height="3.6" rx="0.4" fill="#252525"/><rect x="750.8" y="486.9" width="2.3" height="3.6" rx="0.4" fill="#252525"/><rect x="756.1" y="486.9" width="2.3" height="3.6" rx="0.4" fill="#252525"/><rect x="761.3" y="486.9" width="2.3" height="3.6" rx="0.4" fill="#252525"/><rect x="766.6" y="486.9" width="2.3" height="3.6" rx="0.4" fill="#252525"/><rect x="771.8" y="486.9" width="2.3" height="3.6" rx="0.4" fill="#252525"/><rect x="777.1" y="486.9" width="2.3" height="3.6" rx="0.4" fill="#252525"/><rect x="782.3" y="486.9" width="2.3" height="3.6" rx="0.4" fill="#252525"/><rect x="787.6" y="486.9" width="2.3" height="3.6" rx="0.4" fill="#252525"/><rect x="792.8" y="486.9" width="2.3" height="3.6" rx="0.4" fill="#252525"/><rect x="798.1" y="486.9" width="2.3" height="3.6" rx="0.4" fill="#252525"/><rect x="803.3" y="486.9" width="2.3" height="3.6" rx="0.4" fill="#252525"/><rect x="808.6" y="486.9" width="2.3" height="3.6" rx="0.4" fill="#252525"/><rect x="813.8" y="486.9" width="2.3" height="3.6" rx="0.4" fill="#252525"/><rect x="819.1" y="486.9" width="2.3" height="3.6" rx="0.4" fill="#252525"/><rect x="824.3" y="486.9" width="2.3" height="3.6" rx="0.4" fill="#252525"/><rect x="829.6" y="486.9" width="2.3" height="3.6" rx="0.4" fill="#252525"/><rect x="834.8" y="486.9" width="2.3" height="3.6" rx="0.4" fill="#252525"/><rect x="840.1" y="486.9" width="2.3" height="3.6" rx="0.4" fill="#252525"/><rect x="845.3" y="486.9" width="2.3" height="3.6" rx="0.4" fill="#252525"/><rect x="850.6" y="486.9" width="2.3" height="3.6" rx="0.4" fill="#252525"/><rect x="855.8" y="486.9" width="2.3" height="3.6" rx="0.4" fill="#252525"/><rect x="861.1" y="486.9" width="2.3" height="3.6" rx="0.4" fill="#252525"/><rect x="866.3" y="486.9" width="2.3" height="3.6" rx="0.4" fill="#252525"/><rect x="871.6" y="486.9" width="2.3" height="3.6" rx="0.4" fill="#252525"/><rect x="876.8" y="486.9" width="2.3" height="3.6" rx="0.4" fill="#252525"/><rect x="882.1" y="486.9" width="2.3" height="3.6" rx="0.4" fill="#252525"/><rect x="887.3" y="486.9" width="2.3" height="3.6" rx="0.4" fill="#252525"/><path d="M613.5,488.5 L618,485.3 L630,485.5 L629,489.5 L616,490 Z" fill="#222"/><g stroke="#2b2b2b" stroke-width="1" stroke-linejoin="round"><ellipse cx="776" cy="508" rx="52" ry="6.5" fill="#e3e6ea" stroke-width="0.7"/><polygon points="762,501 830,487.5 846,463 851.5,461.5 842,487 836,492 770,504" fill="#dfe2e7"/><ellipse cx="805" cy="499" rx="22" ry="2.5" fill="#c8ccd2" stroke-width="0.6"/><ellipse cx="800" cy="504" rx="20" ry="2.3" fill="#c8ccd2" stroke-width="0.6"/><linearGradient id="eng" gradientUnits="userSpaceOnUse" x1="0" y1="501" x2="0" y2="522"><stop offset="0" stop-color="#f5f6f8"/><stop offset="1" stop-color="#c4c9d0"/></linearGradient><path d="M766.8,506 L774,508.5 L774,516 L766.8,518.5 Z" fill="#8a8f96"/><path d="M728,501.5 L766.8,502.5 L766.8,521.5 L728,522 C724,519 723.5,504 728,501.5 Z" fill="url(#eng)"/><ellipse cx="726" cy="511.5" rx="2.6" ry="9.5" fill="#e9ebee" stroke-width="0.8"/><line x1="789.6" y1="512" x2="789.6" y2="520" stroke-width="1.8"/><circle cx="789.6" cy="523" r="6" fill="#3a3a3a"/><circle cx="789.6" cy="523" r="2.6" fill="#8a8a8a" stroke="none"/><polygon points="621,511 639.8,513.5 639.3,518 620.3,516" fill="#c6cacf" stroke-width="0.8"/><line x1="637.9" y1="517" x2="637.9" y2="522" stroke-width="1.3"/><circle cx="637.9" cy="525.2" r="3.9" fill="#d1a95c" stroke="#4a3a20" stroke-width="1.2"/></g><line x1="599.6" y1="514" x2="599.6" y2="526.5" stroke="#111" stroke-width="1.3"/><polygon points="599.6,511.3 597.3,515.5 601.9,515.5" fill="#111"/><polygon points="599.6,529.2 597.3,525 601.9,525" fill="#111"/>
<line x1="195.8" y1="272.0" x2="234.5" y2="339.7" stroke="#111" stroke-width="2.6"/><polygon points="241.0,351.0 227.9,341.2 235.0,340.6 239.2,334.8" fill="#111"/>
<line x1="465.3" y1="265.6" x2="497.6" y2="307.0" stroke="#111" stroke-width="2.6"/><polygon points="505.6,317.2 491.2,309.4 498.2,307.7 501.5,301.4" fill="#111"/>
<line x1="597.0" y1="238.7" x2="541.8" y2="293.8" stroke="#111" stroke-width="2.6"/><polygon points="532.6,303.0 538.6,287.8 541.1,294.5 547.8,297.0" fill="#111"/>
<line x1="930.3" y1="158.4" x2="944.3" y2="181.7" stroke="#111" stroke-width="2.6"/><polygon points="951.0,192.8 937.7,183.3 944.8,182.5 948.8,176.6" fill="#111"/>
<line x1="737.0" y1="366.8" x2="679.3" y2="347.2" stroke="#111" stroke-width="2.6"/><polygon points="667.0,343.0 683.3,341.7 678.4,346.9 679.1,354.0" fill="#111"/>
<line x1="412.4" y1="466.0" x2="377.3" y2="434.8" stroke="#111" stroke-width="2.6"/><polygon points="367.6,426.2 383.1,431.3 376.6,434.2 374.5,441.0" fill="#111"/>
<line x1="319.3" y1="524.4" x2="304.4" y2="509.7" stroke="#111" stroke-width="2.6"/><polygon points="295.1,500.6 310.4,506.5 303.7,509.0 301.2,515.8" fill="#111"/>
<text x="30.5" y="50.0" font-size="40.7" font-weight="bold" fill="#111" textLength="964.0" lengthAdjust="spacingAndGlyphs" text-anchor="start" stroke="#111" stroke-width="1.30" stroke-linejoin="round" >INSTRUMENT LANDING SYSTEM (ILS) APPROACH DIAGRAM</text><text x="29.0" y="79.5" font-size="21.2" font-weight="normal" fill="#111" textLength="966.0" lengthAdjust="spacingAndGlyphs" text-anchor="start" stroke="#111" stroke-width="0.80" stroke-linejoin="round" >ILS GUIDES AIRCRAFT TO RUNWAY USING TWO ELECTRONIC BEAMS IN LOW VISIBILITY CONDITIONS (CLOUDS AND FOG)</text><text x="31.5" y="260.5" font-size="26.2" font-weight="bold" fill="#111" textLength="210.5" lengthAdjust="spacingAndGlyphs" text-anchor="start" stroke="#111" stroke-width="0.70" stroke-linejoin="round" >Horizontal Localizer</text><text x="31.5" y="287.5" font-size="26.2" font-weight="bold" fill="#111" textLength="128.0" lengthAdjust="spacingAndGlyphs" text-anchor="start" stroke="#111" stroke-width="0.70" stroke-linejoin="round" >Beam (Blue)</text><text x="31.5" y="317.0" font-size="18.9" font-weight="normal" fill="#111" textLength="135.5" lengthAdjust="spacingAndGlyphs" text-anchor="start" stroke="#111" stroke-width="0.55" stroke-linejoin="round" >KEEPING AIRCRAFT</text><text x="31.5" y="337.5" font-size="18.9" font-weight="normal" fill="#111" textLength="167.5" lengthAdjust="spacingAndGlyphs" text-anchor="start" stroke="#111" stroke-width="0.55" stroke-linejoin="round" >CENTERED ON RUNWAY</text><text x="481.2" y="250.4" font-size="18.3" font-weight="bold" fill="#111" textLength="84.3" lengthAdjust="spacingAndGlyphs" text-anchor="start" stroke="#111" stroke-width="0.50" stroke-linejoin="round" >ILS Center -</text><text x="486.4" y="269.1" font-size="18.3" font-weight="bold" fill="#111" textLength="67.5" lengthAdjust="spacingAndGlyphs" text-anchor="start" stroke="#111" stroke-width="0.50" stroke-linejoin="round" >Precision</text><text x="601.0" y="234.7" font-size="37.8" font-weight="bold" fill="#111" textLength="57.5" lengthAdjust="spacingAndGlyphs" text-anchor="start" stroke="#111" stroke-width="1.00" stroke-linejoin="round" >PFD</text><text x="848.2" y="151.1" font-size="24.7" font-weight="bold" fill="#111" textLength="146.5" lengthAdjust="spacingAndGlyphs" text-anchor="start" stroke="#111" stroke-width="0.60" stroke-linejoin="round" >Localizer Array</text><text x="743.0" y="370.2" font-size="26.2" font-weight="bold" fill="#111" textLength="211.5" lengthAdjust="spacingAndGlyphs" text-anchor="start" stroke="#111" stroke-width="0.70" stroke-linejoin="round" >Diagonal Glideslope</text><text x="745.8" y="396.5" font-size="26.2" font-weight="bold" fill="#111" textLength="207.0" lengthAdjust="spacingAndGlyphs" text-anchor="start" stroke="#111" stroke-width="0.70" stroke-linejoin="round" >Beam (Amber) at 3°</text><text x="719.5" y="422.9" font-size="18.9" font-weight="normal" fill="#111" textLength="163.0" lengthAdjust="spacingAndGlyphs" text-anchor="start" stroke="#111" stroke-width="0.55" stroke-linejoin="round" >HOLDING AIRCRAFT ON</text><text x="719.5" y="444.9" font-size="18.9" font-weight="normal" fill="#111" textLength="176.5" lengthAdjust="spacingAndGlyphs" text-anchor="start" stroke="#111" stroke-width="0.55" stroke-linejoin="round" >CORRECT DESCENT PATH</text><text x="420.3" y="478.0" font-size="22.7" font-weight="bold" fill="#111" textLength="143.2" lengthAdjust="spacingAndGlyphs" text-anchor="start" stroke="#111" stroke-width="0.60" stroke-linejoin="round" >Touchdown Zone</text><text x="326.8" y="532.5" font-size="24.4" font-weight="bold" fill="#111" textLength="159.4" lengthAdjust="spacingAndGlyphs" text-anchor="start" stroke="#111" stroke-width="0.65" stroke-linejoin="round" >Glideslope Tower</text><text x="575.2" y="524.9" font-size="19.5" font-weight="bold" fill="#111" textLength="17.0" lengthAdjust="spacingAndGlyphs" text-anchor="start" stroke="#111" stroke-width="0.60" stroke-linejoin="round" >3°</text>
</svg>
</body></html>
